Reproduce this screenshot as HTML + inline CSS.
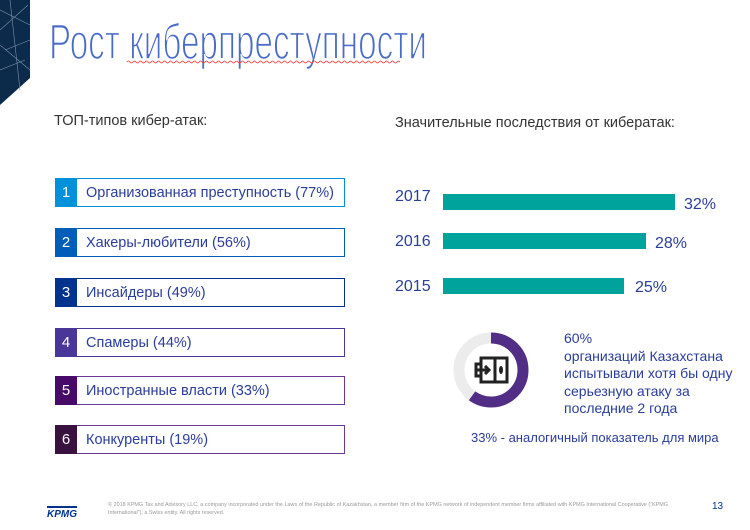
<!DOCTYPE html>
<html><head><meta charset="utf-8"><style>
body{margin:0;width:750px;height:530px;background:#fff;position:relative;overflow:hidden;font-family:"Liberation Sans",sans-serif;}
.a{position:absolute;}
.box{position:absolute;left:55px;width:290px;height:29px;border:1px solid;box-sizing:border-box;}
.num{position:absolute;left:-1px;top:-1px;width:22px;height:29px;color:#fff;font-size:15px;line-height:30px;text-align:center;}
.lbl{position:absolute;left:30px;top:1px;line-height:27px;font-size:14.5px;color:#2a3d9a;white-space:nowrap;}
.yr{position:absolute;left:395px;font-size:16px;color:#2a3d9a;}
.pc{position:absolute;font-size:16px;color:#2a3d9a;}
.bar{position:absolute;left:443px;height:16px;background:#00a39c;}
</style></head><body>
<svg class="a" style="left:0;top:0" width="32" height="110"><polygon points="0,0 30,0 30,78 0,105" fill="#0c2a4a"/>
<g stroke="#7d93ab" stroke-width="0.6" fill="none"><path d="M0,10 L30,25 M0,30 L28,5 M5,50 L30,40 M0,70 L25,60 M10,0 L20,90 M0,45 L30,70"/></g></svg>
<svg class="a" style="left:0;top:0" width="460" height="80"><text x="49" y="59" font-family="Liberation Sans Narrow, Liberation Sans, sans-serif" font-size="50" fill="#4a6cc8" textLength="378" lengthAdjust="spacingAndGlyphs" style="stroke:#fff;stroke-width:1.6px">Рост киберпреступности</text>
<path d="M127,62 q1.5,-2 3,0 t3,0 t3,0 t3,0 t3,0 t3,0 t3,0 t3,0 t3,0 t3,0 t3,0 t3,0 t3,0 t3,0 t3,0 t3,0 t3,0 t3,0 t3,0 t3,0 t3,0 t3,0 t3,0 t3,0 t3,0 t3,0 t3,0 t3,0 t3,0 t3,0 t3,0 t3,0 t3,0 t3,0 t3,0 t3,0 t3,0 t3,0 t3,0 t3,0 t3,0 t3,0 t3,0 t3,0 t3,0 t3,0 t3,0 t3,0 t3,0 t3,0 t3,0 t3,0 t3,0 t3,0 t3,0 t3,0 t3,0 t3,0 t3,0 t3,0 t3,0 t3,0 t3,0 t3,0 t3,0 t3,0 t3,0 t3,0 t3,0 t3,0 t3,0 t3,0 t3,0 t3,0 t3,0 t3,0 t3,0 t3,0 t3,0 t3,0 t3,0 t3,0 t3,0 t3,0 t3,0 t3,0 t3,0 t3,0 t3,0 t3,0 t3,0" stroke="#f33" stroke-width="0.8" fill="none"/></svg>
<div class="a" style="left:54px;top:113px;font-size:14.5px;color:#333">ТОП-типов кибер-атак:</div>
<div class="a" style="left:395px;top:115px;font-size:14.5px;color:#333">Значительные последствия от кибератак:</div>

<div class="box" style="top:178px;border-color:#0091da"><div class="num" style="background:#0091da">1</div><div class="lbl">Организованная преступность (77%)</div></div>
<div class="box" style="top:228px;border-color:#005eb8"><div class="num" style="background:#005eb8">2</div><div class="lbl">Хакеры-любители (56%)</div></div>
<div class="box" style="top:278px;border-color:#00338d"><div class="num" style="background:#00338d">3</div><div class="lbl">Инсайдеры (49%)</div></div>
<div class="box" style="top:328px;border-color:#483698"><div class="num" style="background:#483698">4</div><div class="lbl">Спамеры (44%)</div></div>
<div class="box" style="top:376px;border-color:#6a3a9a"><div class="num" style="background:#470a68">5</div><div class="lbl">Иностранные власти (33%)</div></div>
<div class="box" style="top:425px;border-color:#6a3a9a"><div class="num" style="background:#3a1240">6</div><div class="lbl">Конкуренты (19%)</div></div>

<div class="yr" style="top:188px">2017</div><div class="bar" style="top:194px;width:232px"></div><div class="pc" style="left:684px;top:196px">32%</div>
<div class="yr" style="top:233px">2016</div><div class="bar" style="top:233px;width:203px"></div><div class="pc" style="left:655px;top:235px">28%</div>
<div class="yr" style="top:278px">2015</div><div class="bar" style="top:278px;width:181px"></div><div class="pc" style="left:635px;top:279px">25%</div>

<svg class="a" style="left:450px;top:328px" width="84" height="84">
<circle cx="41" cy="42" r="32" fill="none" stroke="#ececec" stroke-width="11"/>
<circle cx="41" cy="42" r="32" fill="none" stroke="#512d85" stroke-width="11" stroke-dasharray="120.6 201" transform="rotate(-90 41 42)"/>
<g fill="none" stroke="#222" stroke-width="3"><rect x="31" y="30" width="26" height="24"/><path d="M30,36 h-4 v12 h4 M45,30 v24"/><path d="M27,42 h12 M35,38 l4,4 -4,4"/></g><ellipse cx="51" cy="42" rx="2" ry="4" fill="#222"/>
</svg>
<div class="a" style="left:564px;top:330px;font-size:14px;color:#2a3d9a;line-height:17.5px">60%<br>организаций Казахстана<br>испытывали хотя бы одну<br>серьезную атаку за<br>последние 2 года</div>
<div class="a" style="left:471px;top:430px;font-size:13px;color:#2a3d9a">33% - аналогичный показатель для мира</div>

<div class="a" style="left:47px;top:506px;font-size:10px;font-weight:bold;font-style:italic;color:#00338d;border-top:2px solid #00338d;line-height:11px;padding-top:1px">KPMG</div>
<div class="a" style="left:108px;top:501px;font-size:5.4px;color:#999;line-height:8px;width:560px;text-align:justify">© 2018 KPMG Tax and Advisory LLC, a company incorporated under the Laws of the Republic of Kazakhstan, a member firm of the KPMG network of independent member firms affiliated with KPMG International Cooperative ("KPMG International"), a Swiss entity. All rights reserved.</div>
<div class="a" style="left:712px;top:501px;font-size:10px;color:#00338d">13</div>
</body></html>
